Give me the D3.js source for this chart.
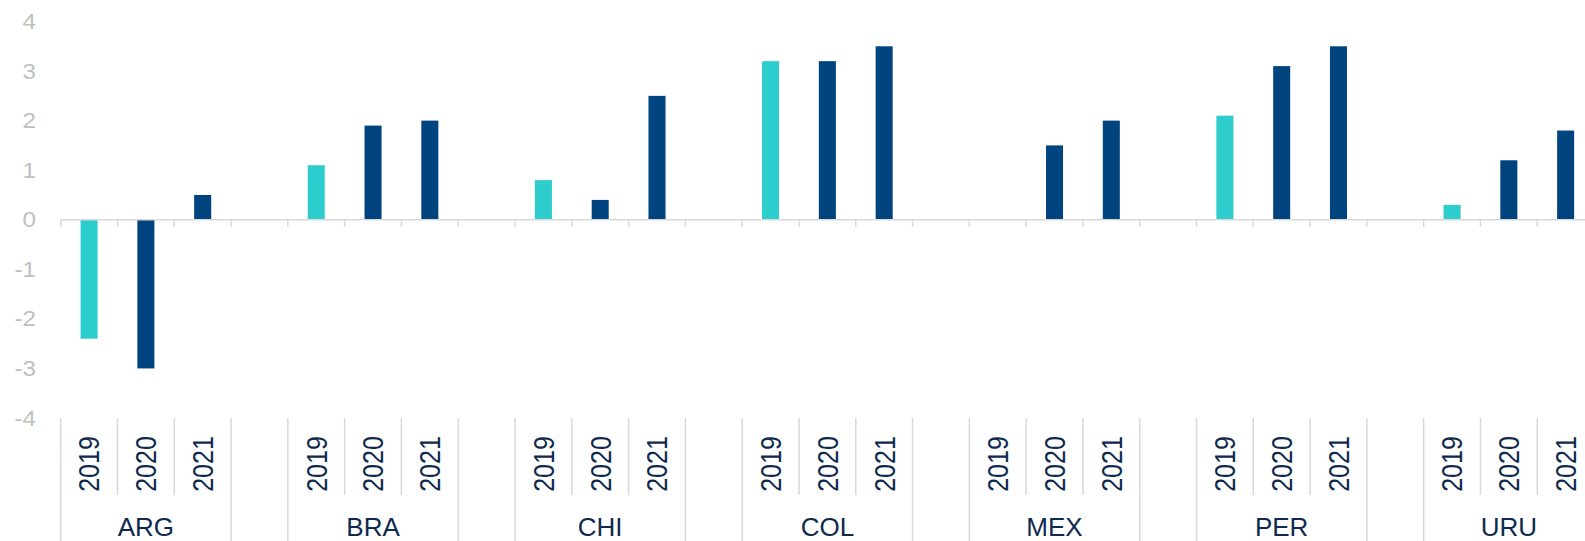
<!DOCTYPE html>
<html>
<head>
<meta charset="utf-8">
<script src="https://cdn.jsdelivr.net/npm/d3@7"></script>
<style>
  html, body { margin: 0; padding: 0; background: #fff; }
  svg { display: block; font-family: "Liberation Sans", Arial, sans-serif; }
</style>
</head>
<body>
<script>
const w = 1585;
const h = 541;

// data
const countries = ['ARG', 'BRA', 'CHI', 'COL', 'MEX', 'PER', 'URU'];
const years = ['2019', '2020', '2021'];
const values2019 = [-2.4, 1.1, 0.8, 3.2, null, 2.1, 0.3];
const values2020 = [-3.0, 1.9, 0.4, 3.2, 1.5, 3.1, 1.2];
const values2021 = [0.5, 2.0, 2.5, 3.5, 2.0, 3.5, 1.8];
const yTicks = [-4, -3, -2, -1, 0, 1, 2, 3, 4];

const seriesValues = [values2019, values2020, values2021];
const colors = ['#2ecdcd', '#00447f', '#00447f'];
const gray = '#d9d9d9';
const navy = '#0f2a4e';

// slots: 3 years per country, then an empty slot between countries
let slots = [];
countries.forEach((c, i) => {
  years.forEach(y => slots.push(c + '-' + y));
  if (i < countries.length - 1) slots.push(c + '-gap');
});

let rows = [];
countries.forEach((c, i) => {
  years.forEach((y, j) => {
    rows.push({ country: c, year: y, value: seriesValues[j][i], color: colors[j] });
  });
});

const left = 60.7;
const slotW = 56.79;

const x = d3.scaleBand()
  .domain(slots)
  .range([left, left + slots.length * slotW]);

const y = d3.scaleLinear()
  .domain([-4, 4])
  .range([418, 21.5]);

const svg = d3.select('body').append('svg')
  .attr('width', w)
  .attr('height', h);

// y axis labels (text a bit wider than the font, like the original)
const stretch = 1.1;
const yAxis = d3.axisLeft(y).tickValues(yTicks).tickSize(0).tickPadding(0).tickFormat(d => String(d));
svg.append('g')
  .attr('transform', `translate(${left},0)`)
  .call(yAxis)
  .call(g => g.select('.domain').remove())
  .selectAll('text')
  .attr('x', -24.7 / stretch)
  .attr('transform', `scale(${stretch},1)`)
  .attr('font-size', 22)
  .attr('font-family', '"Liberation Sans", Arial, sans-serif')
  .attr('fill', '#bfbfbf');

// bars
svg.selectAll('rect.bar')
  .data(rows.filter(d => d.value !== null))
  .enter()
  .append('rect')
  .attr('class', 'bar')
  .attr('x', d => x(d.country + '-' + d.year) + x.bandwidth() * 0.35)
  .attr('width', x.bandwidth() * 0.3)
  .attr('y', d => y(Math.max(0, d.value)))
  .attr('height', d => Math.abs(y(d.value) - y(0)))
  .attr('fill', d => d.color);

// zero line with little ticks at every slot edge
let edges = slots.map(s => x(s)).concat([x.range()[1]]);
svg.append('line')
  .attr('x1', left).attr('x2', w)
  .attr('y1', y(0)).attr('y2', y(0))
  .attr('stroke', gray).attr('stroke-width', 1.5);
svg.selectAll('line.ztick')
  .data(edges)
  .enter()
  .append('line')
  .attr('class', 'ztick')
  .attr('x1', d => d).attr('x2', d => d)
  .attr('y1', y(0)).attr('y2', y(0) + 7)
  .attr('stroke', gray).attr('stroke-width', 1.5);

// category axis at the bottom
const axisTop = y(-4);
let sepLines = [];
slots.forEach((s, i) => {
  const isGap = s.endsWith('-gap');
  const prevGap = i > 0 && slots[i - 1].endsWith('-gap');
  const full = i === 0 || isGap || prevGap;
  sepLines.push({ x: x(s), full: full });
});
svg.selectAll('line.sep')
  .data(sepLines)
  .enter()
  .append('line')
  .attr('class', 'sep')
  .attr('x1', d => d.x).attr('x2', d => d.x)
  .attr('y1', axisTop)
  .attr('y2', d => d.full ? h : 495)
  .attr('stroke', gray).attr('stroke-width', 1.5);

svg.selectAll('text.year')
  .data(rows)
  .enter()
  .append('text')
  .attr('class', 'year')
  .attr('transform', d => `translate(${x(d.country + '-' + d.year) + x.bandwidth() / 2},464) rotate(-90) scale(1,1.15)`)
  .attr('text-anchor', 'middle')
  .attr('dy', '0.36em')
  .attr('font-size', 25)
  .attr('fill', navy)
  .text(d => d.year);

svg.selectAll('text.country')
  .data(countries)
  .enter()
  .append('text')
  .attr('class', 'country')
  .attr('x', c => (x(c + '-2019') + x(c + '-2021') + x.bandwidth()) / 2)
  .attr('y', 536)
  .attr('text-anchor', 'middle')
  .attr('font-size', 26)
  .attr('fill', navy)
  .text(c => c);
</script>
</body>
</html>
